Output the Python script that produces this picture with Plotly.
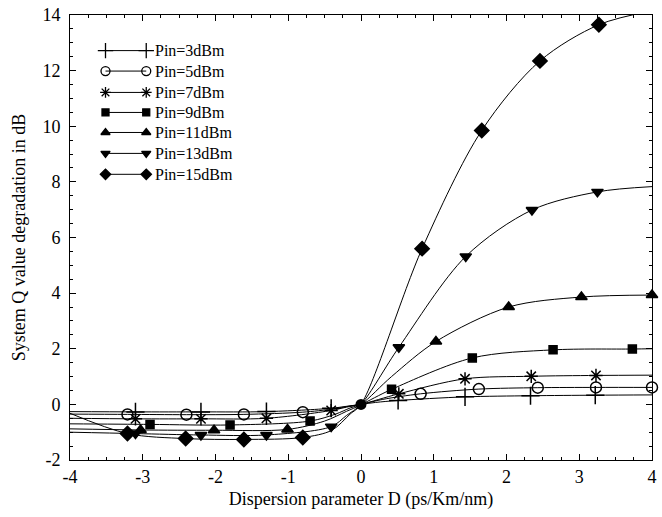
import plotly.graph_objects as go

# ---- data ----
series_names = ["Pin=3dBm", "Pin=5dBm", "Pin=7dBm", "Pin=9dBm",
                "Pin=11dBm", "Pin=13dBm", "Pin=15dBm"]

# marker points
p3_mx = [-3.1, -2.2, -1.3, -0.41, 0.51, 1.43, 2.33, 3.22]
p3_my = [-0.27, -0.27, -0.26, -0.14, 0.14, 0.27, 0.31, 0.33]
p5_mx = [-3.21, -2.40, -1.61, -0.80, 0.82, 1.62, 2.43, 3.23, 4.0]
p5_my = [-0.36, -0.37, -0.36, -0.28, 0.38, 0.55, 0.60, 0.61, 0.61]
p7_mx = [-3.1, -2.2, -1.3, -0.41, 0.52, 1.43, 2.34, 3.23]
p7_my = [-0.52, -0.52, -0.50, -0.22, 0.38, 0.92, 1.01, 1.04]
p9_mx = [-2.9, -1.8, -0.7, 0.42, 1.53, 2.64, 3.73]
p9_my = [-0.72, -0.74, -0.60, 0.54, 1.67, 1.96, 1.99]
p11_mx = [-3.03, -2.02, -1.01, 1.03, 2.03, 3.03, 4.0]
p11_my = [-0.92, -0.93, -0.90, 2.26, 3.50, 3.86, 3.93]
p13_mx = [-3.1, -2.2, -1.3, -0.41, 0.52, 1.44, 2.35, 3.25]
p13_my = [-1.05, -1.10, -1.10, -0.80, 2.05, 5.32, 6.99, 7.64]
p15_mx = [-3.21, -2.41, -1.61, -0.80, 0.84, 1.66, 2.46, 3.27]
p15_my = [-1.05, -1.23, -1.26, -1.19, 5.60, 9.85, 12.35, 13.65]

# extra curve points (line only, no marker)
p3_ex = [-4, -0.2, 0, 0.2, 4]
p3_ey = [-0.26, -0.07, 0, 0.07, 0.34]
p5_ex = [-4, -0.4, -0.15, 0, 0.3]
p5_ey = [-0.35, -0.17, -0.06, 0, 0.18]
p7_ex = [-4, -0.2, 0, 4]
p7_ey = [-0.50, -0.10, 0, 1.05]
p9_ex = [-4, -0.35, -0.15, 0, 4]
p9_ey = [-0.70, -0.35, -0.13, 0, 2.00]
p11_ex = [-4, -0.5, -0.2, 0, 0.42]
p11_ey = [-0.88, -0.60, -0.25, 0, 1.00]
p13_ex = [-4, -0.2, 0, 4]
p13_ey = [-1.00, -0.40, 0, 7.83]
p15_ex = [-4, -0.4, -0.15, 0, 4]
p15_ey = [-0.32, -0.93, -0.35, 0, 14.15]

# common point where all curves meet
origin_x = [0]
origin_y = [0]

x_ticks = [-4, -3, -2, -1, 0, 1, 2, 3, 4]
y_ticks = [-2, 0, 2, 4, 6, 8, 10, 12, 14]

# ---- styles ----
data = [
    (p3_mx, p3_my, p3_ex, p3_ey),
    (p5_mx, p5_my, p5_ex, p5_ey),
    (p7_mx, p7_my, p7_ex, p7_ey),
    (p9_mx, p9_my, p9_ex, p9_ey),
    (p11_mx, p11_my, p11_ex, p11_ey),
    (p13_mx, p13_my, p13_ex, p13_ey),
    (p15_mx, p15_my, p15_ex, p15_ey),
]
symbols = ["cross-thin-open", "circle-open", "asterisk-open", "square",
           "triangle-up", "triangle-down", "diamond"]
sizes = [13, 11, 11, 8, 10, 10, 11]
leg_sizes = [11, 9, 9, 7, 8, 8, 8]
FONT = "Liberation Serif"

fig = go.Figure()
for (mx, my, ex, ey), sym, sz, name in zip(data, symbols, sizes, series_names):
    pts = sorted(set(zip(mx + ex, my + ey)))
    lx = [p[0] for p in pts]
    ly = [p[1] for p in pts]
    fig.add_trace(go.Scatter(x=lx, y=ly, mode="lines",
                             line=dict(color="black", width=1, shape="spline", smoothing=0.9),
                             showlegend=False, hoverinfo="skip"))
    fig.add_trace(go.Scatter(x=mx, y=my, mode="markers", name=name,
                             marker=dict(symbol=sym, size=sz, color="black",
                                         line=dict(color="black", width=1.5)),
                             showlegend=False, cliponaxis=False))

fig.add_trace(go.Scatter(x=origin_x, y=origin_y, mode="markers", showlegend=False,
                         marker=dict(symbol="circle", size=11, color="black")))

# custom legend on an overlay axis (fractions of the plot area)
leg_x0, leg_x1, leg_tx = 0.061, 0.131, 0.142
leg_y = [0.92, 0.874, 0.826, 0.781, 0.736, 0.689, 0.642]
for sym, sz, name, yy in zip(symbols, leg_sizes, series_names, leg_y):
    fig.add_trace(go.Scatter(x=[leg_x0, leg_x1], y=[yy, yy], mode="lines+markers",
                             xaxis="x2", yaxis="y2", showlegend=False, hoverinfo="skip",
                             line=dict(color="black", width=1),
                             marker=dict(symbol=sym, size=sz, color="black",
                                         line=dict(color="black", width=1.3))))
    fig.add_annotation(x=leg_tx, y=yy, xref="x2", yref="y2", text=name,
                       showarrow=False, xanchor="left", yanchor="middle",
                       font=dict(family=FONT, size=16, color="black"))

axis_common = dict(showgrid=False, zeroline=False, showline=True, linecolor="black",
                   linewidth=1, mirror="ticks", ticks="inside", ticklen=6,
                   tickcolor="black", tickfont=dict(family=FONT, size=18, color="black"))

fig.update_layout(
    width=662, height=517,
    margin=dict(l=70, r=5, t=12, b=57),
    paper_bgcolor="white", plot_bgcolor="white",
    showlegend=False,
    xaxis=dict(range=[-4, 4], tickvals=x_ticks, ticktext=[str(v) for v in x_ticks],
               minor=dict(dtick=0.25, ticks="inside", ticklen=3, tickcolor="black"),
               title=dict(text="Dispersion parameter D (ps/Km/nm)", standoff=6,
                          font=dict(family=FONT, size=18, color="black")),
               **axis_common),
    yaxis=dict(range=[-2, 14], tickvals=y_ticks, ticktext=[str(v) for v in y_ticks],
               minor=dict(dtick=0.5, ticks="inside", ticklen=3, tickcolor="black"),
               ticklabelstandoff=5,
               title=dict(text="System Q value degradation in dB", standoff=12,
                          font=dict(family=FONT, size=18, color="black")),
               **axis_common),
    xaxis2=dict(range=[0, 1], overlaying="x", visible=False, fixedrange=True),
    yaxis2=dict(range=[0, 1], overlaying="y", visible=False, fixedrange=True),
)

fig.write_html("out.html", config={"displayModeBar": False},
               post_script="document.body.style.margin='0';")
